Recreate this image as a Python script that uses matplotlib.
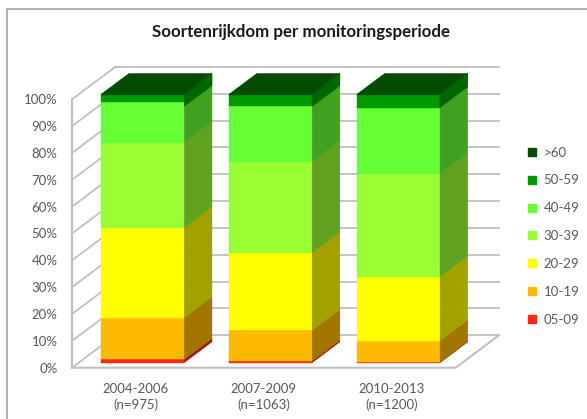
import matplotlib
matplotlib.use("Agg")
import matplotlib.pyplot as plt
import numpy as np
from matplotlib.lines import Line2D
from matplotlib.patches import Polygon, Rectangle

plt.rcParams["font.family"] = ["Lato", "DejaVu Sans"]

periods = ["2004-2006\n(n=975)", "2007-2009\n(n=1063)", "2010-2013\n(n=1200)"]
classes = ["05-09", "10-19", "20-29", "30-39", "40-49", "50-59", ">60"]
colors = ["#FF2A0F", "#FFBB00", "#FFFF00", "#99FF33", "#66FF33", "#009900", "#004D00"]

v0509 = [1.3, 0.7, 0.3]
v1019 = [15.5, 11.4, 7.9]
v2029 = [33.4, 28.8, 23.8]
v3039 = [31.8, 34.0, 38.4]
v4049 = [15.2, 20.8, 24.6]
v5059 = [2.6, 3.9, 4.6]
v60 = [0.2, 0.4, 0.4]

title = "Soortenrijkdom per monitoringsperiode"
yticks = np.arange(0, 101, 10)

# oblique depth of the floor, in data units
DX = 0.339
DY = 12.1
D_FRONT = 0.155
D_BACK = 0.795
BAR_W = 0.65
GRID = "#BFBFBF"
TXT = "#595959"


def shade(c, f=0.63):
    r, g, b = matplotlib.colors.to_rgb(c)
    return (r * f, g * f, b * f)


def poly(ax, pts, color, z):
    ax.add_patch(Polygon(pts, closed=True, fc=color, ec=color, lw=0.3, clip_on=False, zorder=z))


fig = plt.figure(figsize=(5.87, 4.19), dpi=100)
ax = fig.add_axes([72 / 587, 1 - 367.7 / 419, 383.7 / 587, 268.4 / 419])
ax.set_xlim(0, 3)
ax.set_ylim(0, 100)
for s in ax.spines.values():
    s.set_visible(False)

# frame runs off the right and bottom edge
fig.add_artist(Rectangle((7 / 587, -0.1), 1.1, 1.1 - 9 / 419, fill=False, ec="#B0B0B0", lw=1.4))

# walls and floor
for t in yticks:
    ax.plot([0, DX], [t, t + DY], color=GRID, lw=1.3, clip_on=False, zorder=1)
    ax.plot([DX, 3 + DX], [t + DY, t + DY], color=GRID, lw=1.3, clip_on=False, zorder=1)
ax.plot([0, 0], [0, 100], color=GRID, lw=1.5, clip_on=False, zorder=1)
ax.plot([0, 3, 3 + DX], [0, 0, DY], color=GRID, lw=1.5, clip_on=False, zorder=1)

# stacked bars, each drawn as front, side and top
stack = np.array([v0509, v1019, v2029, v3039, v4049, v5059, v60])
centers = np.arange(3) + 0.5
for i, c in enumerate(centers):
    x0 = c - BAR_W / 2 + D_FRONT * DX
    x1 = x0 + BAR_W
    xb = (D_BACK - D_FRONT) * DX
    yf = D_FRONT * DY
    yb = (D_BACK - D_FRONT) * DY
    bottom = 0
    for j, col in enumerate(colors):
        top = bottom + stack[j, i]
        poly(ax, [(x0, bottom + yf), (x1, bottom + yf), (x1, top + yf), (x0, top + yf)], col, 3 + i)
        poly(ax, [(x1, bottom + yf), (x1 + xb, bottom + yf + yb), (x1 + xb, top + yf + yb), (x1, top + yf)],
             shade(col), 3 + i)
        bottom = top
    poly(ax, [(x0, bottom + yf), (x1, bottom + yf), (x1 + xb, bottom + yf + yb), (x0 + xb, bottom + yf + yb)],
         colors[-1], 3 + i)
    # darker edge of the top face on the side
    poly(ax, [(x1, bottom + yf), (x1 + xb, bottom + yf + yb), (x1 + xb, bottom + yf + yb - 4.5),
              (x1, bottom + yf - 4.5)], "#006600", 3 + i)

ax.set_xticks(centers, periods)
ax.set_yticks(yticks, [f"{t}%" for t in yticks])
ax.tick_params(axis="both", length=0, colors=TXT, labelsize=9.5)
ax.tick_params(axis="y", pad=10.5)
ax.tick_params(axis="x", pad=11)
for lab in ax.get_xticklabels():
    lab.set_linespacing(1.35)

fig.text(301 / 587, 1 - 32 / 419, title, ha="center", va="center", fontsize=12.2, fontweight="bold", color="#1A1A1A")

handles = [Line2D([], [], ls="", marker="s", ms=6.0, color=c) for c in colors[::-1]]
fig.legend(handles, classes[::-1], loc="center left", bbox_to_anchor=(520.5 / 587, 1 - 236 / 419),
           frameon=False, fontsize=9.5, labelcolor=TXT, labelspacing=1.2, handletextpad=0.0,
           handlelength=1.75, borderpad=0, borderaxespad=0)

fig.savefig("out.png", dpi=100)
